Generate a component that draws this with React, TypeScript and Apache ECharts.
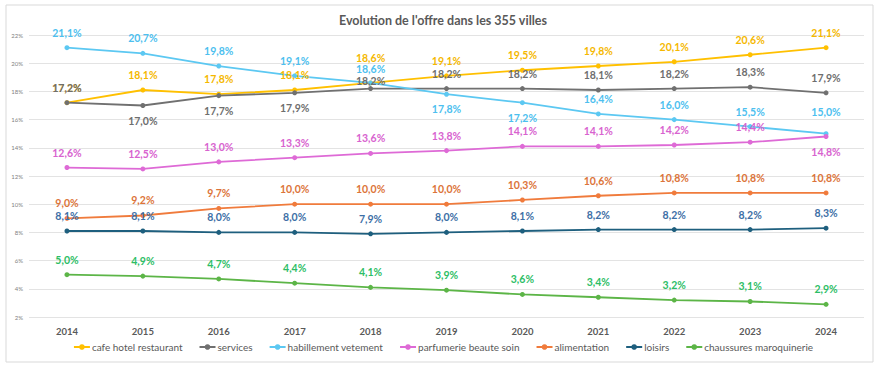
import React, { useEffect, useRef } from "react";
import * as echarts from "echarts";

const years = ["2014", "2015", "2016", "2017", "2018", "2019", "2020", "2021", "2022", "2023", "2024"];
const cafe = [17.2, 18.1, 17.8, 18.1, 18.6, 19.1, 19.5, 19.8, 20.1, 20.6, 21.1];
const services = [17.2, 17.0, 17.7, 17.9, 18.2, 18.2, 18.2, 18.1, 18.2, 18.3, 17.9];
const habillement = [21.1, 20.7, 19.8, 19.1, 18.6, 17.8, 17.2, 16.4, 16.0, 15.5, 15.0];
const parfumerie = [12.6, 12.5, 13.0, 13.3, 13.6, 13.8, 14.1, 14.1, 14.2, 14.4, 14.8];
const alimentation = [9.0, 9.2, 9.7, 10.0, 10.0, 10.0, 10.3, 10.6, 10.8, 10.8, 10.8];
const loisirs = [8.1, 8.1, 8.0, 8.0, 7.9, 8.0, 8.1, 8.2, 8.2, 8.2, 8.3];
const chaussures = [5.0, 4.9, 4.7, 4.4, 4.1, 3.9, 3.6, 3.4, 3.2, 3.1, 2.9];

type Def = { name: string; data: number[]; line: string; label: string; below: number[]; dist: Record<number, number> };

const seriesDefs: Def[] = [
  { name: "cafe hotel restaurant", data: cafe, line: "#FFC000", label: "#F5B800", below: [], dist: { 4: 17 } },
  { name: "services", data: services, line: "#707070", label: "#6E6E6E", below: [1, 2, 3], dist: { 4: 0 } },
  { name: "habillement vetement", data: habillement, line: "#5CC8F2", label: "#4DBFEF", below: [5, 6], dist: { 4: 6, 10: 14 } },
  { name: "parfumerie beaute soin", data: parfumerie, line: "#DE6AD6", label: "#D863CF", below: [10], dist: {} },
  { name: "alimentation", data: alimentation, line: "#F07B3C", label: "#DC743A", below: [], dist: {} },
  { name: "loisirs", data: loisirs, line: "#1E5F7E", label: "#3D6FA6", below: [], dist: {} },
  { name: "chaussures maroquinerie", data: chaussures, line: "#5CB547", label: "#2DBE66", below: [], dist: {} },
];

const fmt = (v: number) => v.toFixed(1).replace(".", ",") + "%";

export default function App() {
  const ref = useRef<HTMLDivElement>(null);
  useEffect(() => {
    if (!ref.current) return;
    const chart = echarts.init(ref.current, undefined, { renderer: "svg" });
    const font = "Lato, 'Open Sans', sans-serif";
    chart.setOption({
      animation: false,
      backgroundColor: "#ffffff",
      textStyle: { fontFamily: font },
      title: {
        text: "Evolution de l'offre dans les 355 villes",
        left: "center",
        top: 9,
        textStyle: { fontSize: 12.5, fontWeight: "bold", color: "#595959", fontFamily: font },
      },
      graphic: [
        {
          type: "rect",
          shape: { x: 6, y: 5, width: 867, height: 357 },
          style: { fill: "none", stroke: "#D9D9D9", lineWidth: 1 },
          silent: true,
          z: -1,
        },
      ],
      legend: {
        bottom: 11,
        left: "center",
        itemWidth: 16,
        itemHeight: 7,
        itemGap: 16,
        textStyle: { fontSize: 10, color: "#595959", fontFamily: font, padding: [0, 0, 0, -3] },
        data: seriesDefs.map((s) => s.name),
      },
      grid: { left: 29, right: 22, top: 35, bottom: 51, containLabel: false },
      xAxis: {
        type: "category",
        data: years,
        boundaryGap: true,
        axisLine: { show: false },
        axisTick: { show: false },
        axisLabel: { fontSize: 9.5, fontWeight: "bold", color: "#595959", margin: 9, fontFamily: font },
      },
      yAxis: {
        type: "value",
        min: 2,
        max: 22,
        interval: 2,
        axisLabel: { fontSize: 6, color: "#7F7F7F", margin: 6, formatter: (v: number) => v + "%", fontFamily: font },
        splitLine: { lineStyle: { color: "#E3E3E3", width: 1 } },
        axisLine: { show: false },
        axisTick: { show: false },
      },
      series: seriesDefs.map((s) => ({
        name: s.name,
        type: "line",
        data: s.data.map((v, i) => ({
          value: v,
          label: {
            position: s.below.includes(i) ? "bottom" : "top",
            distance: s.dist[i] !== undefined ? s.dist[i] : 7,
          },
        })),
        color: s.line,
        symbol: "circle",
        symbolSize: 5,
        lineStyle: { width: 1.8, color: s.line },
        itemStyle: { color: s.line },
        label: {
          show: true,
          position: "top",
          distance: 7,
          fontSize: 10.5,
          fontWeight: "bold",
          color: s.label,
          fontFamily: font,
          formatter: (p: any) => fmt(p.value),
        },
      })),
    });
    return () => chart.dispose();
  }, []);
  return (
    <div
      ref={ref}
      style={{ position: "absolute", left: 0, top: 0, width: 886, height: 368 }}
    />
  );
}
